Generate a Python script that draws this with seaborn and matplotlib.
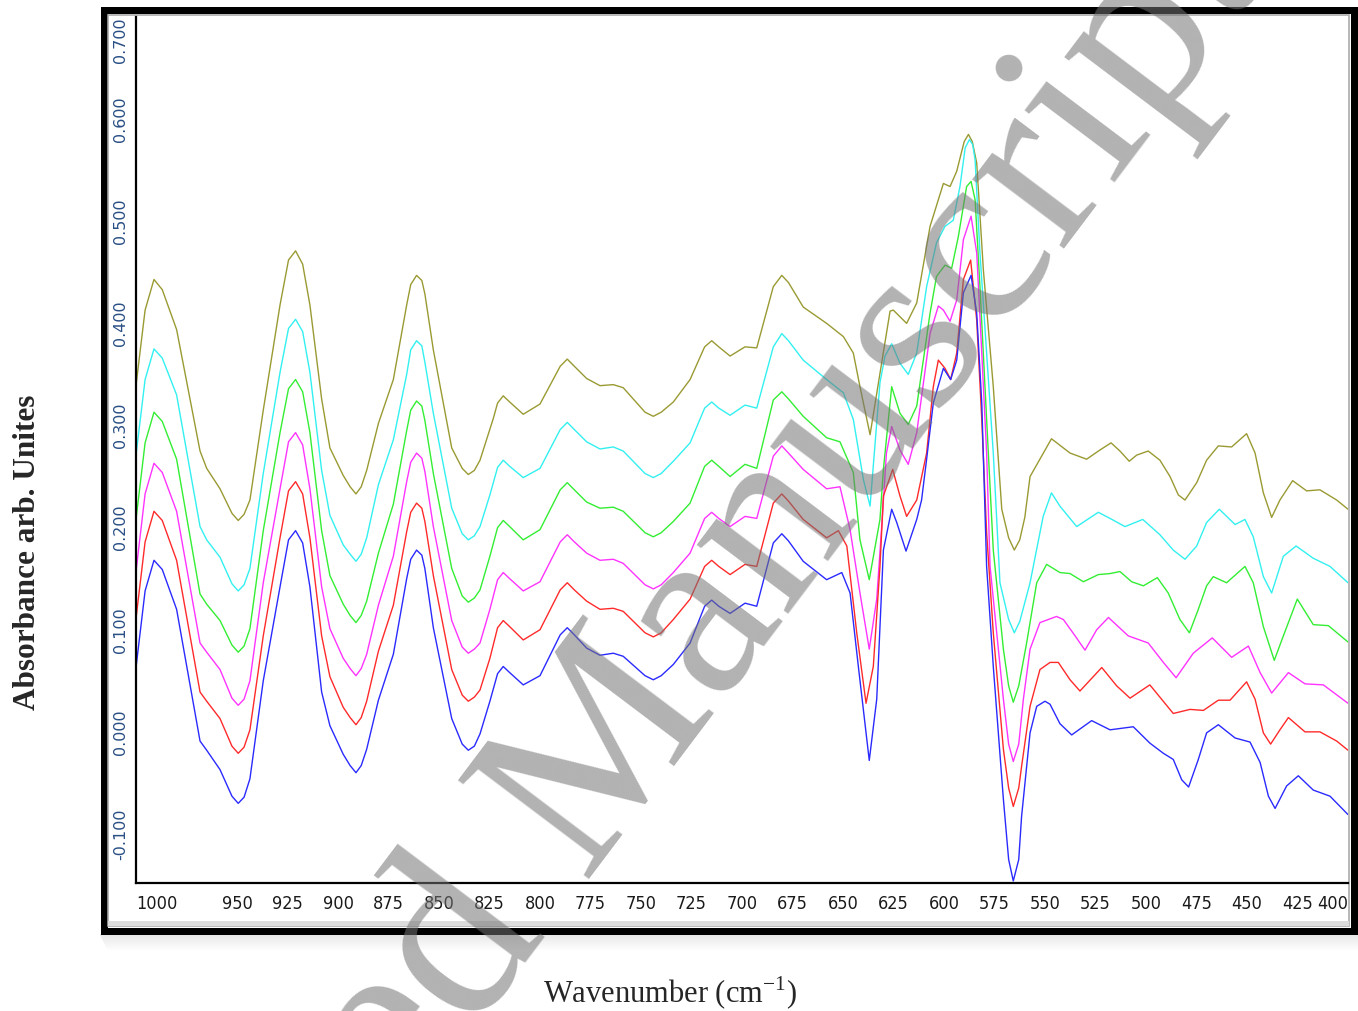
import matplotlib
matplotlib.use("Agg")
import numpy as np
import pandas as pd
import matplotlib.pyplot as plt
import seaborn as sns
from matplotlib import font_manager
from matplotlib.patches import Rectangle

# ---------------- data ----------------
# (the last points of each list are extra readings near peaks/troughs; lineplot sorts by x)
olive_wn = [1000, 991.1, 979.9, 968.3, 965.0, 958.4, 949.4, 943.6, 937.0, 928.7,
            921.0, 913.9, 908.1, 904.0, 897.4, 891.1, 885.8, 880.0, 872.6, 866.0,
            861.1, 857.0, 852.8, 843.7, 835.5, 829.7, 823.1, 818.2, 808.3, 800.0,
            786.5, 776.9, 770.3, 763.7, 758.8, 743.9, 734.0, 725.7, 715.0, 705.9,
            698.5, 692.7, 684.5, 680.3, 669.7, 658.1, 649.8, 644.9, 641.6, 636.6,
            631.7, 626.7, 625.1, 618.5, 613.5, 606.9, 600.3, 597.0, 593.7, 587.9,
            583.8, 580.5, 575.6, 571.4, 565.2, 560.0, 557.4, 546.8, 537.6, 529.4,
            522.8, 517.3, 512.9, 508.3, 504.6, 498.9, 493.1, 488.1, 484.0, 480.7,
            474.9, 470.0, 464.2, 457.6, 450.2, 446.0, 441.9, 437.8, 433.7, 427.4,
            420.5, 413.9, 405.6, 400.0,
            995.5, 987.0, 952.5, 946.5, 924.5, 917.5, 894.0, 888.5, 864.0, 858.5,
            838.5, 832.5, 821.0, 815.0, 790.0, 783.0, 748.0, 740.0, 718.5, 711.5,
            677.0, 590.0, 586.0, 568.0, 562.5]
olive_abs = [0.339, 0.443, 0.394, 0.275, 0.258, 0.238, 0.207, 0.227, 0.315, 0.418,
             0.471, 0.418, 0.326, 0.278, 0.251, 0.233, 0.256, 0.302, 0.345, 0.418,
             0.447, 0.429, 0.374, 0.278, 0.252, 0.266, 0.307, 0.329, 0.311, 0.321,
             0.365, 0.346, 0.339, 0.340, 0.337, 0.309, 0.323, 0.345, 0.383, 0.368,
             0.377, 0.376, 0.436, 0.447, 0.416, 0.400, 0.387, 0.371, 0.338, 0.291,
             0.351, 0.412, 0.413, 0.400, 0.420, 0.495, 0.537, 0.534, 0.549, 0.585,
             0.557, 0.452, 0.338, 0.218, 0.178, 0.210, 0.250, 0.287, 0.273, 0.267,
             0.276, 0.283, 0.275, 0.265, 0.271, 0.275, 0.266, 0.250, 0.232, 0.227,
             0.244, 0.266, 0.280, 0.279, 0.292, 0.273, 0.234, 0.210, 0.227, 0.246,
             0.236, 0.237, 0.227, 0.218,
             0.413, 0.433, 0.214, 0.213, 0.462, 0.458, 0.240, 0.240, 0.438, 0.442,
             0.258, 0.256, 0.322, 0.323, 0.358, 0.358, 0.313, 0.313, 0.377, 0.377,
             0.440, 0.578, 0.578, 0.190, 0.188]

cyan_wn = [1000, 991.1, 979.9, 968.3, 965.0, 958.4, 949.4, 943.6, 937.0, 928.7,
           921.0, 913.9, 908.1, 904.0, 897.4, 891.1, 885.8, 880.0, 872.6, 866.0,
           861.1, 857.0, 852.8, 843.7, 835.5, 829.7, 824.8, 818.2, 808.3, 800.0,
           786.5, 776.9, 770.3, 763.7, 758.8, 743.9, 734.0, 725.7, 715.0, 705.9,
           698.5, 692.7, 684.5, 680.3, 669.7, 658.1, 649.8, 644.9, 639.9, 636.6,
           631.7, 629.2, 625.9, 621.8, 617.7, 613.5, 608.6, 603.7, 599.5, 595.4,
           592.1, 587.4, 584.6, 582.2, 578.9, 575.6, 572.3, 565.2, 557.4, 550.9,
           546.8, 542.6, 534.3, 523.6, 517.8, 510.4, 501.6, 493.1, 486.5, 480.7,
           474.9, 470.0, 463.7, 455.9, 451.0, 446.9, 441.9, 437.8, 432.0, 425.7,
           417.2, 408.9, 400.0,
           995.5, 987.0, 952.5, 946.5, 924.5, 917.5, 894.0, 888.5, 864.0, 858.5,
           838.5, 832.5, 821.0, 815.0, 790.0, 783.0, 748.0, 740.0, 718.5, 711.5,
           677.0, 589.5, 585.8, 568.0, 562.5]
cyan_abs = [0.271, 0.375, 0.330, 0.201, 0.188, 0.171, 0.138, 0.160, 0.253, 0.352,
            0.404, 0.352, 0.256, 0.212, 0.183, 0.167, 0.190, 0.242, 0.286, 0.350,
            0.383, 0.362, 0.312, 0.219, 0.188, 0.201, 0.232, 0.266, 0.249, 0.258,
            0.303, 0.284, 0.277, 0.279, 0.275, 0.249, 0.265, 0.283, 0.323, 0.310,
            0.320, 0.317, 0.377, 0.390, 0.364, 0.345, 0.332, 0.306, 0.247, 0.221,
            0.342, 0.368, 0.380, 0.361, 0.350, 0.371, 0.436, 0.479, 0.495, 0.501,
            0.534, 0.580, 0.560, 0.469, 0.371, 0.273, 0.146, 0.097, 0.146, 0.211,
            0.234, 0.221, 0.201, 0.215, 0.209, 0.201, 0.208, 0.193, 0.178, 0.169,
            0.182, 0.205, 0.218, 0.203, 0.208, 0.191, 0.152, 0.136, 0.172, 0.182,
            0.170, 0.162, 0.146,
            0.345, 0.366, 0.145, 0.144, 0.395, 0.392, 0.174, 0.174, 0.374, 0.378,
            0.194, 0.192, 0.259, 0.260, 0.296, 0.296, 0.253, 0.253, 0.317, 0.317,
            0.383, 0.572, 0.575, 0.110, 0.108]

green_wn = [1000, 991.1, 979.9, 968.3, 965.0, 958.4, 949.4, 943.6, 937.0, 928.7,
            921.0, 913.9, 908.1, 904.0, 897.4, 891.1, 885.8, 880.0, 872.6, 866.0,
            861.1, 857.0, 852.8, 843.7, 835.5, 829.7, 824.8, 818.2, 808.3, 800.0,
            786.5, 776.9, 770.3, 763.7, 758.8, 743.9, 734.0, 725.7, 715.0, 705.9,
            698.5, 692.7, 684.5, 680.3, 669.7, 658.1, 651.5, 644.9, 641.6, 637.0,
            631.7, 630.0, 625.9, 621.8, 617.7, 613.5, 606.9, 603.7, 599.5, 596.2,
            592.9, 588.8, 586.6, 584.6, 582.2, 578.9, 575.6, 570.6, 565.7, 559.1,
            554.1, 549.2, 542.6, 537.6, 531.0, 523.6, 517.8, 512.9, 507.1, 501.3,
            494.4, 489.0, 483.2, 478.5, 474.1, 470.0, 466.7, 460.1, 451.0, 446.9,
            441.9, 436.5, 432.0, 425.1, 417.2, 409.7, 400.0,
            995.5, 987.0, 952.5, 946.5, 924.5, 917.5, 894.0, 888.5, 864.0, 858.5,
            838.5, 832.5, 821.0, 815.0, 790.0, 783.0, 748.0, 740.0, 718.5, 711.5,
            677.0, 568.0, 563.0]
green_abs = [0.208, 0.313, 0.267, 0.135, 0.125, 0.109, 0.078, 0.101, 0.197, 0.293,
             0.345, 0.293, 0.197, 0.153, 0.125, 0.107, 0.128, 0.175, 0.223, 0.295,
             0.324, 0.305, 0.253, 0.160, 0.127, 0.139, 0.172, 0.207, 0.188, 0.198,
             0.244, 0.225, 0.219, 0.220, 0.216, 0.191, 0.206, 0.224, 0.266, 0.250,
             0.262, 0.258, 0.325, 0.333, 0.309, 0.288, 0.284, 0.254, 0.188, 0.149,
             0.208, 0.257, 0.338, 0.312, 0.301, 0.319, 0.410, 0.446, 0.457, 0.454,
             0.485, 0.534, 0.539, 0.521, 0.436, 0.306, 0.178, 0.081, 0.029, 0.087,
             0.146, 0.164, 0.156, 0.155, 0.147, 0.154, 0.155, 0.157, 0.147, 0.143,
             0.151, 0.136, 0.110, 0.097, 0.120, 0.143, 0.152, 0.146, 0.162, 0.146,
             0.103, 0.070, 0.094, 0.130, 0.105, 0.104, 0.088,
             0.283, 0.304, 0.085, 0.084, 0.336, 0.333, 0.114, 0.114, 0.315, 0.319,
             0.133, 0.131, 0.200, 0.201, 0.237, 0.237, 0.195, 0.195, 0.260, 0.260,
             0.326, 0.045, 0.045]

magenta_wn = [1000, 991.1, 979.9, 968.3, 965.0, 958.4, 949.4, 943.6, 937.0, 928.7,
              921.0, 913.9, 908.1, 904.0, 897.4, 891.1, 885.8, 880.0, 872.6, 866.0,
              861.1, 857.0, 852.8, 843.7, 835.5, 829.7, 824.8, 818.2, 808.3, 800.0,
              786.5, 776.9, 770.3, 763.7, 758.8, 743.9, 734.0, 725.7, 715.0, 705.9,
              698.5, 692.7, 684.5, 680.3, 669.7, 658.1, 651.5, 646.5, 641.6, 637.0,
              633.3, 630.5, 628.5, 625.9, 621.8, 617.7, 613.5, 606.9, 602.8, 600.3,
              597.0, 593.7, 590.4, 586.6, 583.8, 581.3, 578.9, 577.2, 573.9, 570.6,
              565.7, 560.7, 557.4, 552.5, 544.3, 540.9, 535.1, 530.2, 524.4, 518.6,
              508.8, 498.9, 491.4, 485.1, 476.6, 467.2, 457.6, 449.3, 443.5, 437.8,
              429.5, 421.3, 412.2, 400.0,
              995.5, 987.0, 952.5, 946.5, 924.5, 917.5, 894.0, 888.5, 864.0, 858.5,
              838.5, 832.5, 821.0, 815.0, 790.0, 783.0, 748.0, 740.0, 718.5, 711.5,
              677.0, 568.0, 563.0]
magenta_abs = [0.157, 0.263, 0.216, 0.087, 0.078, 0.061, 0.026, 0.050, 0.146, 0.238,
               0.293, 0.238, 0.142, 0.101, 0.072, 0.055, 0.076, 0.124, 0.172, 0.245,
               0.273, 0.255, 0.201, 0.109, 0.077, 0.087, 0.120, 0.156, 0.138, 0.147,
               0.193, 0.175, 0.168, 0.169, 0.165, 0.140, 0.156, 0.175, 0.215, 0.201,
               0.211, 0.209, 0.270, 0.280, 0.257, 0.238, 0.240, 0.198, 0.136, 0.081,
               0.130, 0.211, 0.273, 0.299, 0.276, 0.262, 0.293, 0.390, 0.417, 0.413,
               0.402, 0.423, 0.482, 0.505, 0.469, 0.371, 0.273, 0.162, 0.097, 0.032,
               -0.029, 0.032, 0.081, 0.107, 0.113, 0.110, 0.094, 0.080, 0.100, 0.112,
               0.094, 0.087, 0.068, 0.053, 0.077, 0.092, 0.073, 0.084, 0.058, 0.038,
               0.058, 0.047, 0.046, 0.028,
               0.233, 0.254, 0.033, 0.032, 0.284, 0.281, 0.062, 0.062, 0.264, 0.268,
               0.083, 0.081, 0.149, 0.150, 0.186, 0.186, 0.144, 0.144, 0.209, 0.209,
               0.273, -0.012, -0.012]

red_wn = [1000, 991.1, 979.9, 968.3, 965.0, 958.4, 949.4, 943.6, 937.0, 928.7,
          921.0, 913.9, 908.1, 904.0, 897.4, 891.1, 885.8, 880.0, 872.6, 866.0,
          861.1, 857.0, 852.8, 843.7, 835.5, 829.7, 824.8, 818.2, 808.3, 800.0,
          786.5, 776.9, 770.3, 763.7, 758.8, 743.9, 734.0, 725.7, 715.0, 705.9,
          698.5, 692.7, 684.5, 680.3, 669.7, 658.1, 652.3, 648.1, 643.2, 638.6,
          635.0, 631.7, 630.0, 625.4, 621.8, 618.5, 613.5, 608.6, 605.3, 602.8,
          599.5, 596.7, 593.7, 590.4, 586.8, 583.8, 581.3, 578.9, 575.6, 570.6,
          565.7, 561.6, 557.4, 552.5, 547.5, 543.4, 537.6, 532.7, 521.9, 514.5,
          507.9, 498.1, 492.3, 486.5, 478.2, 471.6, 464.2, 458.4, 450.2, 446.0,
          441.9, 438.3, 433.7, 429.5, 421.3, 413.9, 405.6, 400.0,
          995.5, 987.0, 952.5, 946.5, 924.5, 917.5, 894.0, 888.5, 864.0, 858.5,
          838.5, 832.5, 821.0, 815.0, 790.0, 783.0, 748.0, 740.0, 718.5, 711.5,
          677.0, 568.0, 563.0]
red_abs = [0.111, 0.216, 0.168, 0.039, 0.030, 0.013, -0.021, 0.002, 0.094, 0.190,
           0.245, 0.190, 0.094, 0.054, 0.024, 0.007, 0.030, 0.079, 0.124, 0.196,
           0.224, 0.206, 0.153, 0.061, 0.030, 0.041, 0.072, 0.109, 0.090, 0.100,
           0.146, 0.128, 0.120, 0.121, 0.118, 0.093, 0.110, 0.130, 0.168, 0.154,
           0.164, 0.162, 0.224, 0.233, 0.208, 0.190, 0.197, 0.182, 0.097, 0.028,
           0.064, 0.162, 0.231, 0.257, 0.231, 0.211, 0.227, 0.273, 0.338, 0.364,
           0.356, 0.345, 0.371, 0.443, 0.462, 0.403, 0.306, 0.195, 0.097, -0.017,
           -0.073, -0.034, 0.025, 0.061, 0.068, 0.068, 0.051, 0.040, 0.063, 0.045,
           0.033, 0.046, 0.032, 0.018, 0.022, 0.021, 0.031, 0.031, 0.049, 0.032,
           -0.001, -0.012, 0.002, 0.014, 0.000, 0.000, -0.009, -0.018,
           0.186, 0.207, -0.014, -0.015, 0.236, 0.233, 0.014, 0.014, 0.215, 0.219,
           0.036, 0.034, 0.102, 0.103, 0.139, 0.139, 0.097, 0.097, 0.162, 0.162,
           0.226, -0.055, -0.055]

blue_wn = [1000, 991.1, 979.9, 968.3, 965.0, 958.4, 949.4, 943.6, 937.0, 928.7,
           921.0, 913.9, 908.1, 904.0, 897.4, 891.1, 885.8, 880.0, 872.6, 866.0,
           861.1, 857.0, 852.8, 843.7, 835.5, 829.7, 824.8, 818.2, 808.3, 800.0,
           786.5, 776.9, 770.3, 763.7, 758.8, 743.9, 734.0, 725.7, 715.0, 705.9,
           698.5, 692.7, 684.5, 680.3, 669.7, 658.1, 650.6, 646.5, 642.4, 637.0,
           633.3, 630.0, 625.9, 623.4, 618.8, 613.5, 611.1, 608.6, 605.3, 600.3,
           596.7, 593.7, 590.4, 586.6, 583.8, 581.3, 578.9, 575.6, 570.6, 565.7,
           561.6, 557.4, 554.1, 550.0, 547.5, 542.6, 536.8, 526.9, 517.8, 506.3,
           498.1, 491.4, 486.5, 482.3, 478.9, 474.1, 470.0, 464.2, 455.9, 448.5,
           443.5, 439.4, 436.1, 430.4, 424.6, 417.2, 408.9, 400.0,
           995.5, 987.0, 952.5, 946.5, 924.5, 917.5, 894.0, 888.5, 864.0, 858.5,
           838.5, 832.5, 821.0, 815.0, 790.0, 783.0, 748.0, 740.0, 718.5, 711.5,
           677.0, 568.0, 563.0]
blue_abs = [0.063, 0.168, 0.120, -0.009, -0.018, -0.037, -0.070, -0.046, 0.050, 0.142,
            0.197, 0.142, 0.039, 0.006, -0.022, -0.040, -0.017, 0.031, 0.076, 0.150,
            0.178, 0.160, 0.102, 0.013, -0.018, -0.002, 0.030, 0.064, 0.046, 0.055,
            0.102, 0.082, 0.075, 0.077, 0.074, 0.051, 0.066, 0.087, 0.129, 0.116,
            0.126, 0.123, 0.185, 0.194, 0.167, 0.149, 0.156, 0.136, 0.064, -0.028,
            0.032, 0.178, 0.218, 0.205, 0.177, 0.208, 0.227, 0.267, 0.322, 0.356,
            0.345, 0.364, 0.430, 0.447, 0.410, 0.322, 0.162, 0.064, -0.066, -0.146,
            -0.083, -0.001, 0.025, 0.030, 0.027, 0.008, -0.003, 0.011, 0.002, 0.005,
            -0.011, -0.021, -0.027, -0.047, -0.054, -0.027, -0.001, 0.007, -0.006, -0.010,
            -0.030, -0.063, -0.075, -0.053, -0.043, -0.057, -0.063, -0.081,
            0.138, 0.159, -0.063, -0.064, 0.188, 0.185, -0.033, -0.033, 0.169, 0.173,
            -0.012, -0.014, 0.057, 0.058, 0.095, 0.095, 0.055, 0.055, 0.123, 0.123,
            0.187, -0.125, -0.125]

series_names = ["olive", "cyan", "green", "magenta", "red", "blue"]
series_colors = ["#9a9a33", "#33f0f0", "#33ee33", "#ff33ff", "#ff2a2a", "#2a2aff"]
x_ticks = [1000, 950, 925, 900, 875, 850, 825, 800, 775, 750, 725, 700, 675,
           650, 625, 600, 575, 550, 525, 500, 475, 450, 425, 400]
y_ticks = [-0.1, 0.0, 0.1, 0.2, 0.3, 0.4, 0.5, 0.6, 0.7]
y_tick_labels = ["-0.100", "0.000", "0.100", "0.200", "0.300", "0.400",
                 "0.500", "0.600", "0.700"]

# ---------------- build long-form table ----------------
all_wn = [olive_wn, cyan_wn, green_wn, magenta_wn, red_wn, blue_wn]
all_abs = [olive_abs, cyan_abs, green_abs, magenta_abs, red_abs, blue_abs]
frames = []
for name, w, a in zip(series_names, all_wn, all_abs):
    if len(w) != len(a):
        raise ValueError(f"{name}: {len(w)} wn vs {len(a)} abs")
    frames.append(pd.DataFrame({"wn": w, "abs": a, "series": name}))
df = pd.concat(frames, ignore_index=True)

# ---------------- style ----------------
sns.set_style("white")
plt.rcParams["font.family"] = ["DejaVu Sans"]
plt.rcParams["mathtext.fontset"] = "custom"
plt.rcParams["mathtext.rm"] = "Liberation Serif"

names = {f.name for f in font_manager.fontManager.ttflist}
if "Liberation Sans Narrow" in names:
    xtick_font = dict(family="Liberation Sans Narrow")
elif "DejaVu Sans Condensed" in names:
    xtick_font = dict(family="DejaVu Sans Condensed")
else:
    xtick_font = dict(family="DejaVu Sans", stretch="condensed")

W, H = 1358, 1011
fig = plt.figure(figsize=(W / 100, H / 100), dpi=100)
fig.patch.set_facecolor("white")

def fx(px):
    return px / W

def fy(py):
    return 1 - py / H

# shadow below the frame
for i in range(8):
    fig.patches.append(Rectangle((fx(100 + i), fy(936 + 2 * i)), fx(1258), 2 / H,
                                 transform=fig.transFigure, facecolor="black",
                                 alpha=0.09 * (8 - i) / 8, edgecolor="none", zorder=-5))
# frame: black border + thin grey inner line
fig.patches.append(Rectangle((fx(103.5), fy(931)), fx(1354 - 103.5), (931 - 10) / H,
                             transform=fig.transFigure, fill=False, edgecolor="black",
                             linewidth=7 * 0.72, zorder=-4))
fig.patches.append(Rectangle((fx(108), fy(926)), fx(1349 - 108), (926 - 15) / H,
                             transform=fig.transFigure, fill=False, edgecolor="#a8a8a8",
                             linewidth=1.6 * 0.72, zorder=-4))
fig.patches.append(Rectangle((fx(108), fy(926)), fx(1349 - 108), 5 / H,
                             transform=fig.transFigure, facecolor="#dcdcdc",
                             edgecolor="none", zorder=-4))

ax = fig.add_axes([fx(136), fy(883), fx(1348 - 136), (883 - 17) / H])
ax.patch.set_visible(False)

sns.lineplot(data=df, x="wn", y="abs", hue="series", hue_order=series_names,
             palette=dict(zip(series_names, series_colors)), estimator=None,
             sort=True, linewidth=1.0, legend=False, ax=ax)

ax.set_xlim(1000, 400)
ax.set_ylim(-0.148, 0.70)
ax.set_xlabel("")
ax.set_ylabel("")
for s in ["top", "right"]:
    ax.spines[s].set_visible(False)
for s in ["left", "bottom"]:
    ax.spines[s].set_color("black")
    ax.spines[s].set_linewidth(1.6)

ax.set_xticks(x_ticks)
ax.set_xticklabels([str(t) for t in x_ticks], fontsize=13, color="#1a1a1a", **xtick_font)
ax.set_yticks(y_ticks)
ax.set_yticklabels(y_tick_labels, fontsize=11.5, color="#2a4f85", rotation=90, va="center")
ax.tick_params(axis="x", direction="out", length=4.5, width=1.0, pad=4, color="#333333")
ax.tick_params(axis="y", direction="out", length=3.6, width=1.0, pad=2, color="#333333")
xl = ax.get_xticklabels()
xl[0].set_horizontalalignment("left")
xl[-1].set_horizontalalignment("right")
yl = ax.get_yticklabels()
yl[-1].set_verticalalignment("top")

# axis titles
fig.text(fx(28), fy(552), "Absorbance arb. Unites", rotation=90, ha="center", va="center",
         fontfamily="Liberation Serif", fontweight="bold", fontsize=22.5)
fig.text(fx(670), fy(993), "Wavenumber (cm$^{\\mathrm{-1}}$)", ha="center", va="center",
         fontfamily="Liberation Serif", fontsize=22)

# watermark
rot = 53
theta = np.deg2rad(rot)
em = 250.0
acc_w = 4.026 * em
px0 = 585 - acc_w * np.cos(theta)
py0 = 884 + acc_w * np.sin(theta)
fig.text(fx(px0), fy(py0), "Accepted Manuscript", rotation=rot, rotation_mode="anchor",
         ha="left", va="baseline", fontfamily="Liberation Serif", fontsize=em * 0.72,
         color=(0.45, 0.45, 0.45), alpha=0.55, zorder=20)

fig.savefig("out.png", dpi=100, facecolor="white")
